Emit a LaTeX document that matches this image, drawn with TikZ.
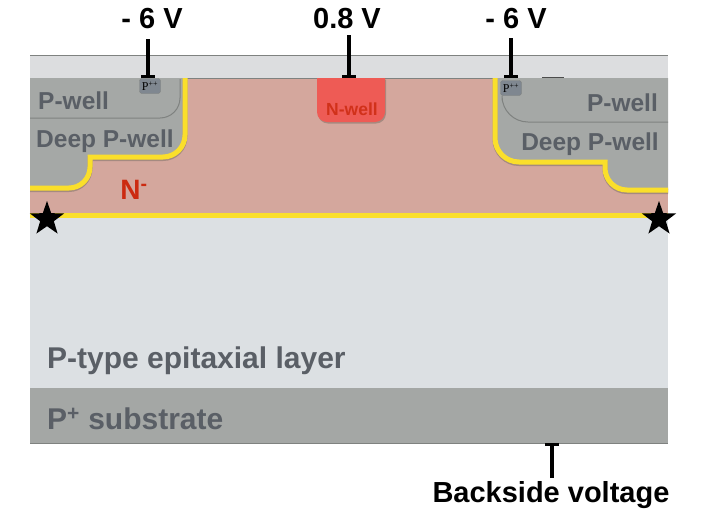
\documentclass[tikz,border=0pt]{standalone}
\usepackage{fontspec}
\setmainfont{Liberation Sans}
\newfontfamily\pppfont{Liberation Serif}
\usetikzlibrary{shapes.geometric, positioning}
\definecolor{oxidegray}{HTML}{DCDDDF}
\definecolor{nregion}{HTML}{D4A79D}
\definecolor{wellgray}{HTML}{A5A8A6}
\definecolor{epigray}{HTML}{DCE0E3}
\definecolor{subgray}{HTML}{A4A7A5}
\definecolor{labelgray}{HTML}{5A5F66}
\definecolor{edgegray}{HTML}{7F8280}
\definecolor{junction}{HTML}{FADF2B}
\definecolor{nred}{HTML}{CC2A10}
\definecolor{nwellred}{HTML}{EE5B55}
\definecolor{pppgray}{HTML}{7F8790}
\definecolor{shadowtone}{HTML}{A58A80}

\begin{document}
\begin{tikzpicture}[x=1pt,y=-1pt]
\tikzstyle{volt} = [font=\bfseries\fontsize{29}{29}\selectfont, text=black, inner sep=0pt]
\tikzstyle{dopelabel} = [font=\bfseries\fontsize{24.5}{24.5}\selectfont, text=labelgray, inner sep=0pt]
\tikzstyle{layerlabel} = [font=\bfseries\fontsize{30}{30}\selectfont, text=labelgray, inner sep=0pt]
\tikzstyle{ppp} = [rectangle, rounded corners=2.5pt, minimum width=21pt, minimum height=15pt, inner sep=0pt, fill=pppgray, draw=edgegray, font=\pppfont\fontsize{12}{12}\selectfont, text=black]
\tikzstyle{contact} = [line width=3.2pt, black]
\tikzstyle{junctionline} = [line width=5pt, junction]
\tikzstyle{shadowline} = [line width=5pt, shadowtone]
\tikzstyle{marker} = [star, star points=5, star point ratio=2.5, fill=black, minimum size=36pt, inner sep=0pt]

\useasboundingbox (0,0) rectangle (702,512);

% layers
\fill[oxidegray] (30,55) rectangle (668,78);
\draw[edgegray, line width=0.8pt] (30,55) -- (668,55);
\fill[nregion] (30,78) rectangle (668,215);
\fill[epigray] (30,215) rectangle (668,388);
\fill[subgray] (30,388) rectangle (668,443);
\draw[edgegray, line width=1pt] (30,443) -- (668,443);
\draw[edgegray, line width=1pt] (30,78) -- (668,78);
\draw[black!70, line width=2pt] (542,78) -- (564,78);

% left wells
\fill[wellgray] (30,78) -- (185,78) -- (185,135) arc[start angle=0, end angle=90, radius=22] -- (90,157) -- (90,167) arc[start angle=0, end angle=90, radius=21] -- (30,188) -- cycle;
\draw[edgegray, line width=1pt] (30,118) -- (160,118) arc[start angle=90, end angle=0, radius=20] -- (180,79);
\draw[shadowline, yshift=-1.5pt] (185,78) -- (185,135) arc[start angle=0, end angle=90, radius=22] -- (90,157) -- (90,167) arc[start angle=0, end angle=90, radius=21] -- (30,188);
\draw[junctionline] (185,78) -- (185,135) arc[start angle=0, end angle=90, radius=22] -- (90,157) -- (90,167) arc[start angle=0, end angle=90, radius=21] -- (30,188);

% right wells
\fill[wellgray] (668,78) -- (495,78) -- (495,138) arc[start angle=180, end angle=90, radius=24] -- (605,162) -- (605,168) arc[start angle=180, end angle=90, radius=22] -- (668,190) -- cycle;
\draw[edgegray, line width=1pt] (668,122) -- (528,122) arc[start angle=90, end angle=180, radius=26] -- (502,100);
\draw[shadowline, yshift=-1.5pt] (495,78) -- (495,138) arc[start angle=180, end angle=90, radius=24] -- (605,162) -- (605,168) arc[start angle=180, end angle=90, radius=22] -- (668,190);
\draw[junctionline] (495,78) -- (495,138) arc[start angle=180, end angle=90, radius=24] -- (605,162) -- (605,168) arc[start angle=180, end angle=90, radius=22] -- (668,190);

% n-well
\fill[shadowtone, yshift=-1.5pt, xshift=1pt] (317,78) -- (385,78) -- (385,112) arc[start angle=0, end angle=90, radius=10] -- (327,122) arc[start angle=90, end angle=180, radius=10] -- cycle;
\fill[nwellred] (317,78) -- (385,78) -- (385,112) arc[start angle=0, end angle=90, radius=10] -- (327,122) arc[start angle=90, end angle=180, radius=10] -- cycle;

% junction
\draw[junctionline] (30,215.5) -- (668,215.5);

% labels
\node (pwellL) [dopelabel, anchor=west] at (38,101) {P-well};
\node (dpwellL) [dopelabel, anchor=west] at (36,141) {Deep P-well};
\node (pwellR) [dopelabel, anchor=east] at (658,103) {P-well};
\node (dpwellR) [dopelabel, anchor=east] at (659,144) {Deep P-well};
\node (nminus) [inner sep=0pt, text=nred, font=\bfseries\fontsize{28}{28}\selectfont] at (134,190) {N\textsuperscript{-}};
\node (nwell) [inner sep=0pt, text=nred!85!nwellred, font=\bfseries\fontsize{17.5}{17.5}\selectfont] at (352,109) {N-well};
\node (epi) [layerlabel, anchor=west] at (47,361) {P-type epitaxial layer};
\node (sub) [layerlabel, anchor=west] at (47,419) {P\textsuperscript{+} substrate};

% contacts
\node (pppL) [ppp] at (150,86) {P\textsuperscript{++}};
\node (pppR) [ppp] at (511,88) {P\textsuperscript{++}};
\coordinate (nwellTop) at (349,77);
\coordinate (backTop) at (552,444);

\node (voltL) [volt] at (152,19) {- 6 V};
\node (voltM) [volt] at (347,19) {0.8 V};
\node (voltR) [volt] at (516,19) {- 6 V};
\node (voltB) [volt] at (551,495) {Backside voltage};

\coordinate (tipL) at (148,77);
\coordinate (tipR) at (511,77);
\draw[contact] (tipL |- 0,39) -- (tipL);
\draw[contact] (141,76.5) -- (155,76.5);
\draw[contact] (tipR |- 0,38) -- (tipR);
\draw[contact] (504,76.5) -- (518,76.5);
\draw[contact] (nwellTop |- 0,35) -- (nwellTop);
\draw[contact] (342,76.5) -- (356,76.5);
\draw[contact] (backTop |- 0,478) -- (backTop);
\draw[contact] (545,444.5) -- (559,444.5);

% stars
\node (starL) [marker] at (47,219) {};
\node (starR) [marker] at (659,219) {};
\end{tikzpicture}
\end{document}
